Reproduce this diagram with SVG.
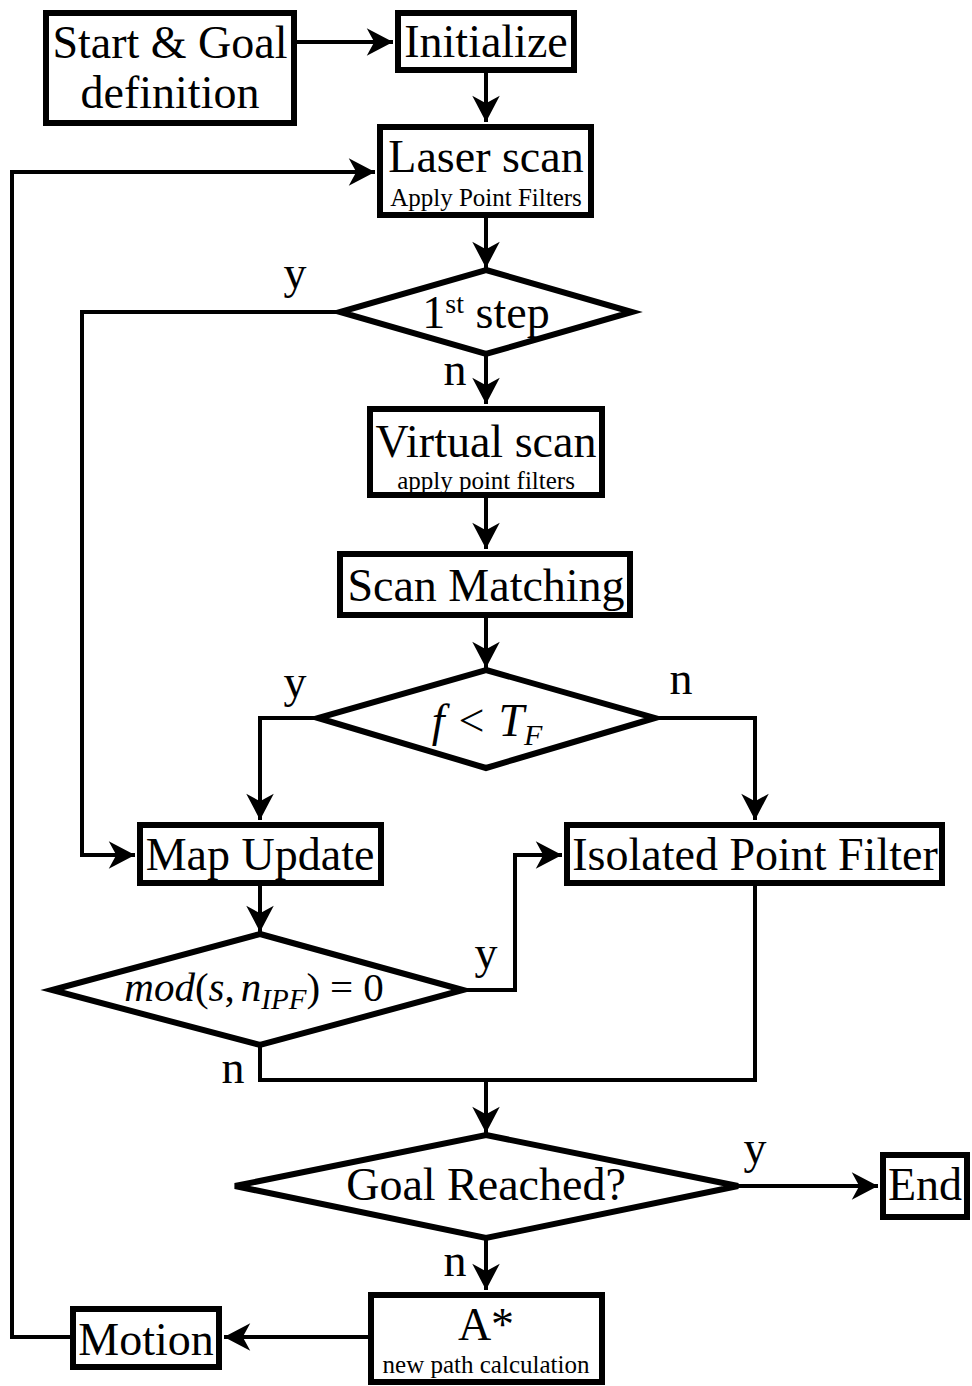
<svg xmlns="http://www.w3.org/2000/svg" width="972" height="1386" viewBox="0 0 972 1386">
<style>
.box{fill:#fff;stroke:#000;stroke-width:6}
.dia{fill:#fff;stroke:#000;stroke-width:6;stroke-linejoin:miter}
.ln{fill:none;stroke:#000;stroke-width:4}
text{font-family:"Liberation Serif","Times New Roman",serif;fill:#000;text-anchor:middle}
.big{font-size:46px}
.sm{font-size:25px}
.lbl{font-size:46px}
.m{font-style:italic}
</style>
<defs>
<marker id="ah" markerUnits="userSpaceOnUse" markerWidth="30" markerHeight="30" viewBox="-22 -12 24 24" refX="0" refY="0" orient="auto">
<path d="M0,0 L-21,-11 L-15,0 L-21,11 Z" fill="#000"/>
</marker>
</defs>
<g id="connectors">
<path class="ln" d="M297,42 H393" marker-end="url(#ah)"/>
<path class="ln" d="M486,73 V122" marker-end="url(#ah)"/>
<path class="ln" d="M70,1337 H12 V172 H375" marker-end="url(#ah)"/>
<path class="ln" d="M486,218 V268" marker-end="url(#ah)"/>
<path class="ln" d="M340,312 H82 V855 H135" marker-end="url(#ah)"/>
<path class="ln" d="M486,354 V404" marker-end="url(#ah)"/>
<path class="ln" d="M486,498 V549" marker-end="url(#ah)"/>
<path class="ln" d="M486,618 V668" marker-end="url(#ah)"/>
<path class="ln" d="M318,718 H260 V820" marker-end="url(#ah)"/>
<path class="ln" d="M655,718 H755 V820" marker-end="url(#ah)"/>
<path class="ln" d="M260,886 V932" marker-end="url(#ah)"/>
<path class="ln" d="M463,990 H515 V855 H562" marker-end="url(#ah)"/>
<path class="ln" d="M260,1045 V1080 H755 V886"/>
<path class="ln" d="M486,1080 V1133" marker-end="url(#ah)"/>
<path class="ln" d="M738,1186 H878" marker-end="url(#ah)"/>
<path class="ln" d="M486,1238 V1290" marker-end="url(#ah)"/>
<path class="ln" d="M368,1337 H224" marker-end="url(#ah)"/>
</g>
<g id="start">
<rect class="box" x="46" y="13" width="248" height="110"/>
<text class="big" x="170" y="58">Start &amp; Goal</text>
<text class="big" x="170" y="108">definition</text>
</g>
<g id="initialize">
<rect class="box" x="398" y="13" width="176" height="57"/>
<text class="big" x="486" y="57">Initialize</text>
</g>
<g id="laser">
<rect class="box" x="380" y="127" width="211" height="88"/>
<text class="big" x="486" y="172">Laser scan</text>
<text class="sm" x="486" y="206">Apply Point Filters</text>
</g>
<g id="first">
<polygon class="dia" points="486,270 632,312 486,354 340,312"/>
<text class="big" x="486" y="328">1<tspan font-size="28" dy="-15">st</tspan><tspan dy="15"> step</tspan></text>
</g>
<g id="virtual">
<rect class="box" x="370" y="409" width="232" height="86"/>
<text class="big" x="486" y="457">Virtual scan</text>
<text class="sm" x="486" y="489">apply point filters</text>
</g>
<g id="matching">
<rect class="box" x="340" y="554" width="290" height="61"/>
<text class="big" x="486" y="601">Scan Matching</text>
</g>
<g id="ftf">
<polygon class="dia" points="486,670 655,718 486,768 318,718"/>
<text class="big" x="487" y="736"><tspan class="m">f</tspan><tspan dx="14">&lt;</tspan><tspan class="m" dx="14">T</tspan><tspan class="m" font-size="30" dy="9">F</tspan></text>
</g>
<g id="map">
<rect class="box" x="140" y="825" width="241" height="58"/>
<text class="big" x="260" y="870">Map Update</text>
</g>
<g id="ipf">
<rect class="box" x="567" y="825" width="375" height="58"/>
<text class="big" x="755" y="870">Isolated Point Filter</text>
</g>
<g id="mod">
<polygon class="dia" points="260,934 463,990 260,1045 52,990"/>
<text x="254" y="1001" font-size="41"><tspan class="m">mod</tspan>(<tspan class="m">s</tspan>,<tspan class="m" dx="6">n</tspan><tspan class="m" font-size="29" dy="8">IPF</tspan><tspan dy="-8">)</tspan><tspan dx="10">=</tspan><tspan dx="10">0</tspan></text>
</g>
<g id="goal">
<polygon class="dia" points="486,1135 738,1186 486,1238 235,1186"/>
<text class="big" x="486" y="1200">Goal Reached?</text>
</g>
<g id="end">
<rect class="box" x="883" y="1155" width="84" height="62"/>
<text class="big" x="925" y="1200">End</text>
</g>
<g id="astar">
<rect class="box" x="371" y="1295" width="231" height="87"/>
<text class="big" x="486" y="1340">A*</text>
<text class="sm" x="486" y="1373">new path calculation</text>
</g>
<g id="motion">
<rect class="box" x="73" y="1309" width="146" height="58"/>
<text class="big" x="146" y="1355">Motion</text>
</g>
<g id="labels">
<text class="lbl" x="295" y="288">y</text>
<text class="lbl" x="455" y="385">n</text>
<text class="lbl" x="295" y="697">y</text>
<text class="lbl" x="681" y="694">n</text>
<text class="lbl" x="486" y="968">y</text>
<text class="lbl" x="233" y="1083">n</text>
<text class="lbl" x="755" y="1163">y</text>
<text class="lbl" x="455" y="1276">n</text>
</g>
</svg>
